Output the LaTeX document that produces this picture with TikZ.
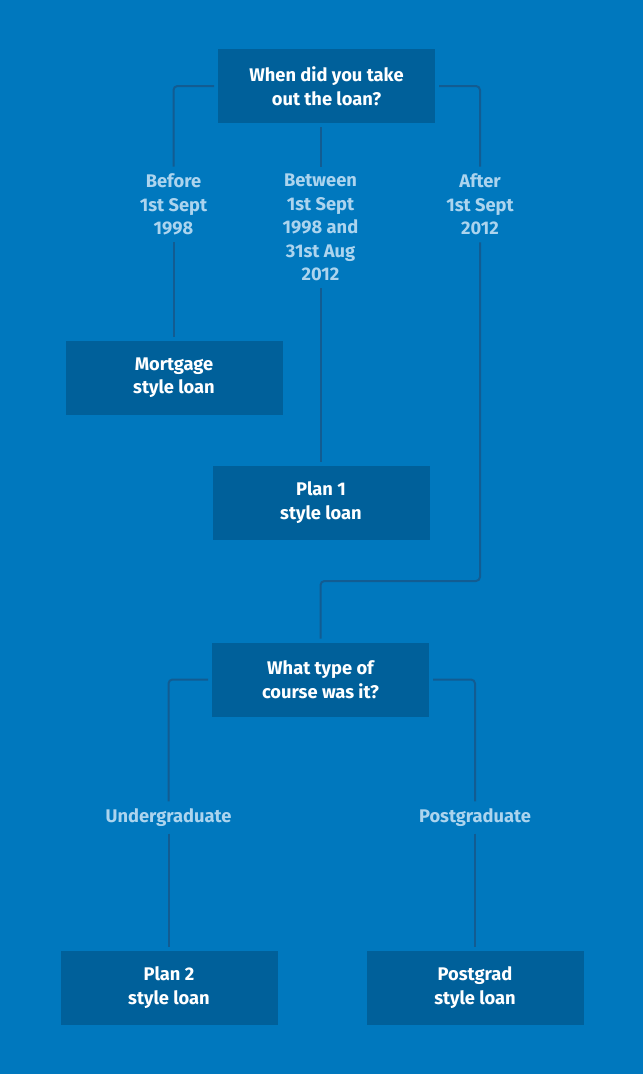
\documentclass[tikz,border=0pt]{standalone}
\usepackage{fontspec}
\setmainfont{Fira Sans}
\definecolor{bgblue}{RGB}{0,120,190}
\definecolor{boxblue}{RGB}{0,96,154}
\definecolor{linkblue}{RGB}{18,92,146}
\definecolor{lblblue}{RGB}{172,212,238}
\begin{document}
\begin{tikzpicture}[x=1pt,y=-1pt,
  qbox/.style={rectangle,fill=boxblue,text=white,minimum width=217pt,minimum height=74pt,align=center,outer sep=4pt,font=\fontsize{18.3}{23.5}\selectfont\bfseries},
  lbl/.style={text=lblblue,align=center,inner xsep=2pt,inner ysep=7pt,font=\fontsize{18.3}{23.5}\selectfont\bfseries},
  link/.style={draw=linkblue,line width=2pt,rounded corners=4pt}]
\fill[bgblue] (0,0) rectangle (643,1074);
\node [qbox] (when) at (326.5,86) {When did you take\\out the loan?};
\node [lbl] (before) at (173.5,204.5) {Before\\1st Sept\\1998};
\node [lbl] (between) at (320.5,227.5) {Between\\1st Sept\\1998 and\\31st Aug\\2012};
\node [lbl] (after) at (480,204.5) {After\\1st Sept\\2012};
\node [qbox] (mortgage) at (174,377.5) {Mortgage\\style loan};
\node [qbox] (plan1) at (321,502.5) {Plan 1\\style loan};
\node [qbox] (course) at (320.5,679.5) {What type of\\course was it?};
\node [lbl] (under) at (168.5,817.5) {Undergraduate};
\node [lbl] (post) at (475,817.5) {Postgraduate};
\node [qbox] (plan2) at (169,987.5) {Plan 2\\style loan};
\node [qbox] (pgrad) at (475,987.5) {Postgrad\\style loan};
\coordinate (turn) at (480,581);
\draw [link] (when.west) -| (before.north);
\draw [link] (between.north) -- (between.north |- when.south);
\draw [link] (when.east) -| (after.north);
\draw [link] (before.south) -- (before.south |- mortgage.north);
\draw [link] (between.south) -- (between.south |- plan1.north);
\draw [link] (after.south) -- (turn) -| (course.north);
\draw [link] (course.west) -| (under.north);
\draw [link] (course.east) -| (post.north);
\draw [link] (under.south) -- (under.south |- plan2.north);
\draw [link] (post.south) -- (pgrad.north);
\end{tikzpicture}
\end{document}
